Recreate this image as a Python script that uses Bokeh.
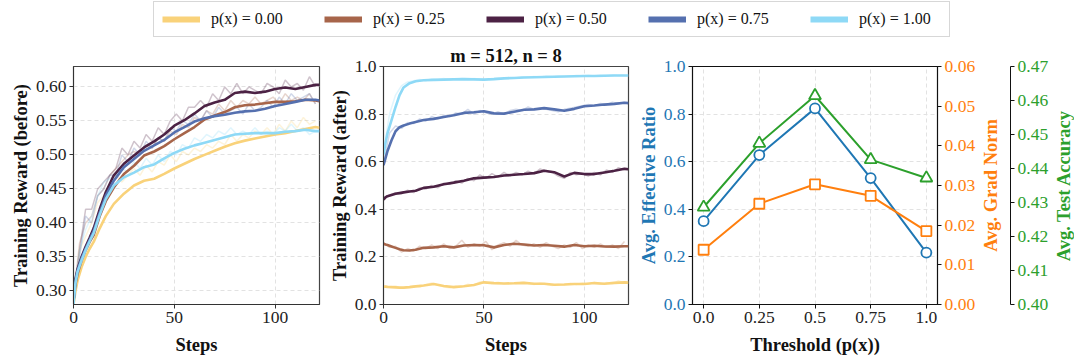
import math
from bokeh.plotting import figure
from bokeh.layouts import column, row
from bokeh.models import (Range1d, FixedTicker, Legend, LegendItem, LinearAxis,
                          PrintfTickFormatter, Title)
from bokeh.embed import file_html
from bokeh.resources import INLINE

# ---------------- data ----------------
LABELS = ["p(x) = 0.00", "p(x) = 0.25", "p(x) = 0.50", "p(x) = 0.75", "p(x) = 1.00"]
COLORS = ["#F9D27A", "#A7654A", "#4C2244", "#5570AF", "#8ED9F6"]

SMOOTH_STEPS = [0, 1, 2, 4, 6, 8, 10, 13, 16, 20, 25, 30, 35, 40, 45, 50, 55, 60, 65,
                70, 75, 80, 85, 90, 95, 100, 105, 110, 115, 120, 122]
RAW_STEPS = list(range(0, 121, 3))

# Left panel: training reward (before), smoothed
before_000 = [0.280, 0.300, 0.315, 0.335, 0.350, 0.362, 0.372, 0.392, 0.410, 0.428, 0.443, 0.455, 0.462,
              0.465, 0.472, 0.480, 0.487, 0.494, 0.500, 0.506, 0.512, 0.517, 0.521, 0.524, 0.527, 0.530,
              0.532, 0.535, 0.538, 0.541, 0.540]
before_025 = [0.285, 0.310, 0.325, 0.345, 0.360, 0.372, 0.382, 0.410, 0.432, 0.452, 0.472, 0.484, 0.499,
              0.505, 0.513, 0.523, 0.532, 0.541, 0.552, 0.558, 0.563, 0.570, 0.573, 0.574, 0.576, 0.578,
              0.578, 0.579, 0.581, 0.580, 0.579]
before_050 = [0.285, 0.318, 0.332, 0.350, 0.365, 0.378, 0.392, 0.420, 0.445, 0.470, 0.487, 0.499, 0.511,
              0.520, 0.530, 0.543, 0.551, 0.561, 0.572, 0.577, 0.581, 0.591, 0.593, 0.591, 0.593, 0.597,
              0.599, 0.597, 0.600, 0.603, 0.603]
before_075 = [0.285, 0.315, 0.330, 0.348, 0.362, 0.375, 0.388, 0.415, 0.440, 0.462, 0.482, 0.494, 0.506,
              0.514, 0.522, 0.533, 0.541, 0.549, 0.554, 0.557, 0.559, 0.562, 0.564, 0.565, 0.568, 0.572,
              0.575, 0.578, 0.581, 0.581, 0.580]
before_100 = [0.280, 0.312, 0.328, 0.345, 0.360, 0.373, 0.385, 0.412, 0.435, 0.455, 0.467, 0.474, 0.482,
              0.486, 0.495, 0.503, 0.509, 0.514, 0.518, 0.522, 0.526, 0.530, 0.531, 0.532, 0.532, 0.532,
              0.534, 0.535, 0.537, 0.535, 0.535]

# Left panel: raw (faint) curves
before_raw_000 = [0.285, 0.36, 0.38, 0.40, 0.43, 0.44, 0.45, 0.47, 0.46, 0.47, 0.48, 0.47, 0.485, 0.475,
                  0.49, 0.485, 0.50, 0.49, 0.505, 0.50, 0.51, 0.505, 0.515, 0.51, 0.52, 0.515, 0.53, 0.52,
                  0.53, 0.525, 0.535, 0.53, 0.54, 0.53, 0.545, 0.535, 0.55, 0.54, 0.555, 0.545, 0.55]
before_raw_025 = [0.29, 0.37, 0.40, 0.41, 0.44, 0.45, 0.47, 0.48, 0.49, 0.50, 0.505, 0.50, 0.515, 0.51,
                  0.525, 0.52, 0.535, 0.53, 0.545, 0.54, 0.555, 0.55, 0.565, 0.56, 0.575, 0.565, 0.58,
                  0.57, 0.58, 0.575, 0.585, 0.575, 0.58, 0.585, 0.575, 0.59, 0.58, 0.585, 0.58, 0.59, 0.575]
before_raw_050 = [0.29, 0.36, 0.42, 0.42, 0.45, 0.46, 0.47, 0.48, 0.51, 0.50, 0.52, 0.51, 0.53, 0.52,
                  0.54, 0.53, 0.55, 0.56, 0.55, 0.57, 0.57, 0.58, 0.57, 0.59, 0.58, 0.60, 0.59, 0.605,
                  0.59, 0.60, 0.595, 0.59, 0.605, 0.60, 0.59, 0.61, 0.60, 0.605, 0.595, 0.615, 0.60]
before_raw_075 = [0.29, 0.35, 0.41, 0.40, 0.44, 0.45, 0.47, 0.47, 0.50, 0.49, 0.51, 0.50, 0.52, 0.51,
                  0.525, 0.52, 0.54, 0.535, 0.55, 0.545, 0.56, 0.55, 0.565, 0.555, 0.57, 0.56, 0.565,
                  0.57, 0.56, 0.575, 0.565, 0.57, 0.58, 0.57, 0.585, 0.575, 0.59, 0.58, 0.585, 0.59, 0.575]
before_raw_100 = [0.29, 0.36, 0.39, 0.41, 0.44, 0.46, 0.465, 0.47, 0.48, 0.475, 0.49, 0.48, 0.495, 0.485,
                  0.50, 0.49, 0.505, 0.50, 0.515, 0.51, 0.525, 0.52, 0.53, 0.525, 0.535, 0.53, 0.54, 0.53,
                  0.535, 0.53, 0.54, 0.53, 0.535, 0.53, 0.54, 0.535, 0.545, 0.535, 0.54, 0.53, 0.535]

# Middle panel: training reward (after), smoothed
after_000 = [0.075, 0.075, 0.074, 0.073, 0.072, 0.071, 0.071, 0.073, 0.076, 0.080, 0.086, 0.078, 0.073,
             0.077, 0.082, 0.093, 0.090, 0.088, 0.089, 0.091, 0.087, 0.087, 0.083, 0.084, 0.086, 0.086,
             0.090, 0.087, 0.091, 0.093, 0.092]
after_025 = [0.255, 0.252, 0.250, 0.244, 0.238, 0.232, 0.228, 0.227, 0.230, 0.238, 0.240, 0.245, 0.240,
             0.248, 0.250, 0.249, 0.240, 0.250, 0.255, 0.252, 0.248, 0.250, 0.247, 0.243, 0.250, 0.245,
             0.247, 0.244, 0.243, 0.245, 0.245]
after_050 = [0.440, 0.450, 0.455, 0.460, 0.465, 0.468, 0.471, 0.475, 0.478, 0.490, 0.495, 0.505, 0.512,
             0.520, 0.530, 0.533, 0.536, 0.542, 0.545, 0.548, 0.552, 0.562, 0.556, 0.538, 0.553, 0.548,
             0.548, 0.555, 0.562, 0.570, 0.568]
after_075 = [0.585, 0.615, 0.645, 0.690, 0.728, 0.745, 0.752, 0.760, 0.767, 0.775, 0.780, 0.788, 0.795,
             0.805, 0.808, 0.812, 0.803, 0.802, 0.810, 0.818, 0.820, 0.825, 0.820, 0.814, 0.822, 0.833,
             0.836, 0.840, 0.843, 0.848, 0.846]
after_100 = [0.630, 0.680, 0.720, 0.775, 0.830, 0.880, 0.912, 0.930, 0.938, 0.942, 0.944, 0.945, 0.946,
             0.947, 0.946, 0.945, 0.947, 0.950, 0.952, 0.954, 0.955, 0.956, 0.957, 0.958, 0.959, 0.960,
             0.960, 0.961, 0.962, 0.962, 0.962]

after_raw_000 = [0.075, 0.072, 0.078, 0.068, 0.074, 0.079, 0.072, 0.083, 0.090, 0.082, 0.074, 0.070, 0.078,
                 0.074, 0.085, 0.080, 0.095, 0.092, 0.088, 0.094, 0.086, 0.091, 0.087, 0.094, 0.089, 0.084,
                 0.090, 0.085, 0.080, 0.086, 0.082, 0.089, 0.084, 0.090, 0.086, 0.093, 0.085, 0.092, 0.088,
                 0.100, 0.090]
after_raw_025 = [0.26, 0.24, 0.245, 0.22, 0.235, 0.225, 0.245, 0.235, 0.25, 0.235, 0.255, 0.235, 0.245,
                 0.27, 0.24, 0.255, 0.245, 0.265, 0.23, 0.25, 0.26, 0.245, 0.27, 0.25, 0.245, 0.255, 0.24,
                 0.26, 0.245, 0.235, 0.25, 0.24, 0.26, 0.235, 0.25, 0.24, 0.255, 0.24, 0.25, 0.235, 0.265]
after_raw_050 = [0.45, 0.46, 0.47, 0.465, 0.48, 0.47, 0.49, 0.485, 0.50, 0.49, 0.51, 0.505, 0.52, 0.51,
                 0.53, 0.52, 0.545, 0.53, 0.55, 0.535, 0.555, 0.54, 0.555, 0.545, 0.56, 0.55, 0.57, 0.56,
                 0.555, 0.54, 0.53, 0.555, 0.545, 0.55, 0.54, 0.555, 0.545, 0.565, 0.555, 0.575, 0.565]
after_raw_075 = [0.59, 0.72, 0.75, 0.74, 0.765, 0.76, 0.78, 0.77, 0.79, 0.78, 0.795, 0.79, 0.805, 0.80,
                 0.82, 0.80, 0.815, 0.805, 0.80, 0.81, 0.80, 0.815, 0.82, 0.815, 0.83, 0.82, 0.825, 0.82,
                 0.815, 0.81, 0.82, 0.825, 0.83, 0.835, 0.84, 0.835, 0.845, 0.84, 0.85, 0.845, 0.85]
after_raw_100 = [0.64, 0.80, 0.88, 0.92, 0.935, 0.94, 0.945, 0.94, 0.948, 0.945, 0.95, 0.944, 0.948, 0.95,
                 0.945, 0.95, 0.947, 0.945, 0.95, 0.952, 0.95, 0.955, 0.952, 0.957, 0.955, 0.958, 0.955,
                 0.96, 0.957, 0.96, 0.958, 0.96, 0.962, 0.96, 0.963, 0.96, 0.963, 0.962, 0.964, 0.962, 0.963]

# Right panel
THRESH = [0.0, 0.25, 0.5, 0.75, 1.0]
EFF_RATIO = [0.350, 0.628, 0.824, 0.531, 0.218]
GRAD_NORM = [0.0138, 0.0254, 0.0303, 0.0274, 0.0185]
TEST_ACC = [0.4286, 0.4474, 0.4614, 0.4426, 0.4372]

STEP_TICKS = [0, 50, 100]
BEFORE_TICKS = [0.30, 0.35, 0.40, 0.45, 0.50, 0.55, 0.60]
AFTER_TICKS = [0.0, 0.2, 0.4, 0.6, 0.8, 1.0]
THRESH_LABELS = {0: "0.0", 0.25: "0.25", 0.5: "0.5", 0.75: "0.75", 1: "1.0"}
EFF_TICKS = [0.0, 0.2, 0.4, 0.6, 0.8, 1.0]
GRAD_TICKS = [0.0, 0.01, 0.02, 0.03, 0.04, 0.05, 0.06]
ACC_TICKS = [0.40, 0.41, 0.42, 0.43, 0.44, 0.45, 0.46, 0.47]

SERIF = "Liberation Serif"
BLUE, ORANGE, GREEN = "#1f77b4", "#ff7f0e", "#2ca02c"
FRAME_H, TOP, BOTTOM = 238, 26, 55


def style_axis(ax, label_color="#111111", tick_label_color="#222222"):
    ax.major_label_text_font = SERIF
    ax.major_label_text_font_size = "17.5px"
    ax.major_label_text_color = tick_label_color
    ax.axis_label_text_font = SERIF
    ax.axis_label_text_font_style = "bold"
    ax.axis_label_text_font_size = "18.5px"
    ax.axis_label_text_color = label_color
    ax.minor_tick_line_color = None
    ax.major_tick_in = 0
    ax.major_tick_out = 4
    ax.major_tick_line_color = "#333333"
    ax.axis_line_color = "#333333"
    ax.major_label_standoff = 3
    ax.axis_label_standoff = 2


def style_fig(p):
    p.outline_line_color = "#444444"
    p.outline_line_width = 1.2
    p.grid.grid_line_color = "#e2e2e2"
    p.grid.grid_line_dash = "4 3"
    p.grid.grid_line_width = 1
    for ax in p.axis:
        style_axis(ax)
    p.xaxis.axis_label_standoff = 9


def curve_fig(title, y0, y1, ylabel, yticks, yfmt, smooth, raw, left_border, frame_w, right_border):
    p = figure(frame_width=frame_w, frame_height=FRAME_H,
               x_range=Range1d(0, 122), y_range=Range1d(y0, y1),
               min_border_left=left_border, min_border_right=right_border,
               min_border_top=TOP, min_border_bottom=BOTTOM,
               toolbar_location=None, output_backend="svg", title=title)
    style_fig(p)
    p.xaxis.ticker = FixedTicker(ticks=STEP_TICKS)
    p.yaxis.ticker = FixedTicker(ticks=yticks)
    p.yaxis.formatter = PrintfTickFormatter(format=yfmt)
    p.xaxis.axis_label = "Steps"
    p.yaxis.axis_label = ylabel
    for ys, c in zip(raw, COLORS):
        p.line(RAW_STEPS, ys, line_color=c, line_alpha=0.27, line_width=1.5)
    for ys, c in zip(smooth, COLORS):
        p.line(SMOOTH_STEPS, ys, line_color=c, line_width=2.6)
    return p


p1 = curve_fig(None, 0.28, 0.63, "Training Reward (before)", BEFORE_TICKS, "%.2f",
               [before_000, before_025, before_050, before_075, before_100],
               [before_raw_000, before_raw_025, before_raw_050, before_raw_075, before_raw_100],
               73, 246, 7)
p2 = curve_fig("m = 512, n = 8", 0.0, 1.0, "Training Reward (after)", AFTER_TICKS, "%.1f",
               [after_000, after_025, after_050, after_075, after_100],
               [after_raw_000, after_raw_025, after_raw_050, after_raw_075, after_raw_100],
               57, 245, 7)
p2.title.align = "center"
p2.title.text_font = SERIF
p2.title.text_font_size = "18.5px"
p2.title.text_font_style = "bold"
p2.title.text_color = "#111111"
p2.title.standoff = 2

# Right panel (blue axis left, orange axis right)
p3 = figure(frame_width=245, frame_height=FRAME_H, x_range=Range1d(-0.05, 1.05), y_range=Range1d(0, 1),
            min_border_left=57, min_border_right=40, min_border_top=TOP, min_border_bottom=BOTTOM,
            toolbar_location=None, output_backend="svg")
p3.extra_y_ranges = {"grad": Range1d(0, 0.06), "acc": Range1d(0.40, 0.47)}
ax_grad = LinearAxis(y_range_name="grad",
                     ticker=FixedTicker(ticks=GRAD_TICKS), formatter=PrintfTickFormatter(format="%.2f"))
p3.add_layout(ax_grad, "right")
style_fig(p3)
p3.outline_line_color = "#111111"
p3.xaxis.ticker = FixedTicker(ticks=THRESH)
p3.xaxis.major_label_overrides = THRESH_LABELS
p3.xaxis.axis_label = "Threshold (p(x))"
p3.yaxis[0].ticker = FixedTicker(ticks=EFF_TICKS)
p3.yaxis[0].formatter = PrintfTickFormatter(format="%.1f")
p3.yaxis[0].axis_label = "Avg. Effective Ratio"
p3.yaxis[0].axis_label_text_color = BLUE
p3.yaxis[0].major_label_text_color = BLUE
ax_grad.major_label_text_color = ORANGE
for ax in p3.axis:
    ax.axis_line_color = "#111111"
    ax.major_tick_line_color = "#111111"

p3.line(THRESH, EFF_RATIO, line_color=BLUE, line_width=2)
p3.scatter(THRESH, EFF_RATIO, marker="circle", size=10, line_color=BLUE, fill_color="white", line_width=1.8)
p3.line(THRESH, GRAD_NORM, line_color=ORANGE, line_width=2, y_range_name="grad")
p3.scatter(THRESH, GRAD_NORM, marker="square", size=10, line_color=ORANGE, fill_color="white",
           line_width=1.8, y_range_name="grad")
p3.line(THRESH, TEST_ACC, line_color=GREEN, line_width=2, y_range_name="acc")
p3.scatter(THRESH, TEST_ACC, marker="triangle", size=12, line_color=GREEN, fill_color="white",
           line_width=1.8, y_range_name="acc")


def side_title(text, color):
    return Title(text=text, align="center", text_font=SERIF, text_font_style="bold",
                 text_font_size="18.5px", text_color=color, standoff=0, offset=0)


# Strip holding the orange axis title and the green (test accuracy) axis
p4 = figure(frame_width=10, frame_height=FRAME_H, x_range=Range1d(0, 1), y_range=Range1d(0.40, 0.47),
            x_axis_type=None, y_axis_location="right",
            min_border_left=22, min_border_right=38, min_border_top=TOP, min_border_bottom=BOTTOM,
            toolbar_location=None, output_backend="svg", outline_line_color=None)
p4.grid.visible = False
p4.add_layout(side_title("Avg. Grad Norm", ORANGE), "left")
style_axis(p4.yaxis[0], tick_label_color=GREEN)
p4.yaxis.ticker = FixedTicker(ticks=ACC_TICKS)
p4.yaxis.formatter = PrintfTickFormatter(format="%.2f")
p4.yaxis.axis_line_color = "#111111"
p4.yaxis.major_tick_line_color = "#111111"

# Strip holding the green axis title
p5 = figure(frame_width=1, frame_height=FRAME_H, x_range=Range1d(0, 1), y_range=Range1d(0, 1),
            x_axis_type=None, y_axis_type=None,
            min_border_left=22, min_border_right=0, min_border_top=TOP, min_border_bottom=BOTTOM,
            toolbar_location=None, output_backend="svg", outline_line_color=None)
p5.grid.visible = False
p5.add_layout(side_title("Avg. Test Accuracy", GREEN), "left")

# Legend strip
pl = figure(width=1078, height=40, x_range=Range1d(0, 1), y_range=Range1d(0, 1),
            x_axis_type=None, y_axis_type=None, min_border=0, outline_line_color=None,
            toolbar_location=None, output_backend="svg")
pl.grid.visible = False
items = []
for lab, c in zip(LABELS, COLORS):
    r = pl.line([math.nan], [math.nan], line_color=c, line_width=6)
    items.append(LegendItem(label=lab, renderers=[r]))
leg = Legend(items=items, orientation="horizontal", location=(153, 3),
             glyph_width=38, glyph_height=18, label_standoff=11, label_width=82, spacing=31,
             padding=8, margin=0, border_line_color="#b0b0b0", border_line_width=1.2,
             label_text_font=SERIF, label_text_font_size="16px", label_text_color="#111111")
pl.add_layout(leg)

layout = column(pl, row(p1, p2, p3, p4, p5))
open("out.html", "w").write(file_html(layout, INLINE))
